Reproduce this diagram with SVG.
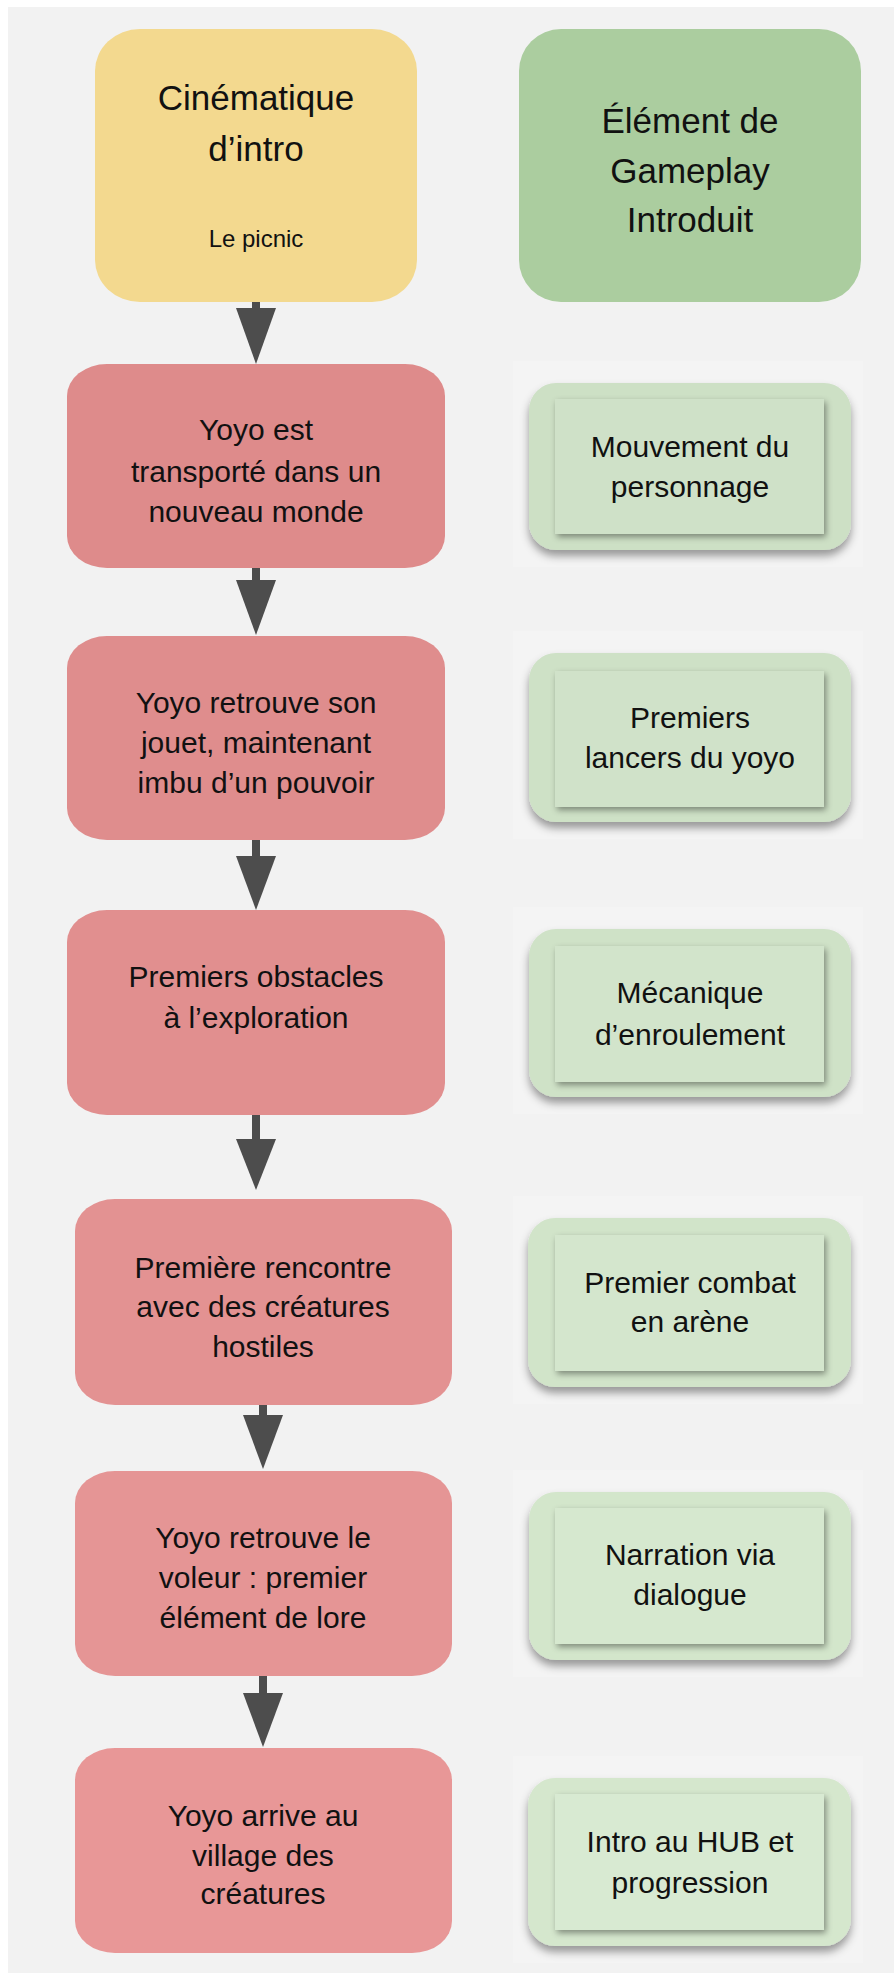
<svg xmlns="http://www.w3.org/2000/svg" width="894" height="1973" viewBox="0 0 894 1973">
<defs>
<filter id="shOuter" x="-10%" y="-15%" width="120%" height="140%">
<feDropShadow dx="0" dy="6" stdDeviation="4" flood-color="#000" flood-opacity="0.38"/>
</filter>
<filter id="shInner" x="-10%" y="-15%" width="125%" height="140%">
<feDropShadow dx="2" dy="3" stdDeviation="3" flood-color="#000" flood-opacity="0.4"/>
</filter>
<style>
text{font-family:"Liberation Sans",Arial,sans-serif;fill:#111;text-anchor:middle}
.t{font-size:30px}
.h{font-size:35px}
.s{font-size:24px}
.red{rx:40px;ry:32px}
.go{rx:27px;ry:27px;filter:url(#shOuter)}
.gi{filter:url(#shInner)}
.halo{fill:#f4f4f4}
.shaft{fill:#4d4d4d}
.head{fill:#4d4d4d}
</style>
</defs>
<rect x="0" y="0" width="894" height="1973" fill="#ffffff"/>
<rect x="8" y="7" width="886" height="1966" fill="#f2f2f2"/>

<g id="connectors">
<rect class="shaft" x="252" y="285" width="8" height="25"/><polygon class="head" points="236,308 276,308 256,364"/>
<rect class="shaft" x="252" y="568" width="8" height="14"/><polygon class="head" points="236,580 276,580 256,635"/>
<rect class="shaft" x="252" y="840" width="8" height="18"/><polygon class="head" points="236,856 276,856 256,910"/>
<rect class="shaft" x="252" y="1115" width="8" height="26"/><polygon class="head" points="236,1139 276,1139 256,1190"/>
<rect class="shaft" x="259" y="1405" width="8" height="12"/><polygon class="head" points="243,1415 283,1415 263,1469"/>
<rect class="shaft" x="259" y="1676" width="8" height="19"/><polygon class="head" points="243,1693 283,1693 263,1747"/>
</g>

<g id="intro">
<rect x="95" y="29" width="322" height="273" rx="45" ry="42" fill="#f3d98f"/>
<text class="h" x="256" y="110">Cinématique</text>
<text class="h" x="256" y="161">d’intro</text>
<text class="s" x="256" y="247">Le picnic</text>
</g>

<g id="header">
<rect x="519" y="29" width="342" height="273" rx="42" ry="42" fill="#abcd9f"/>
<text class="h" x="690" y="133">Élément de</text>
<text class="h" x="690" y="183">Gameplay</text>
<text class="h" x="690" y="232">Introduit</text>
</g>

<g id="step1">
<rect class="red" x="67" y="364" width="378" height="204" fill="#de8b8b"/>
<text class="t" x="256" y="440">Yoyo est</text>
<text class="t" x="256" y="482">transporté dans un</text>
<text class="t" x="256" y="522">nouveau monde</text>
</g>
<g id="step2">
<rect class="red" x="67" y="636" width="378" height="204" fill="#df8d8d"/>
<text class="t" x="256" y="713">Yoyo retrouve son</text>
<text class="t" x="256" y="753">jouet, maintenant</text>
<text class="t" x="256" y="793">imbu d’un pouvoir</text>
</g>
<g id="step3">
<rect class="red" x="67" y="910" width="378" height="205" fill="#e18f8f"/>
<text class="t" x="256" y="987">Premiers obstacles</text>
<text class="t" x="256" y="1028">à l’exploration</text>
</g>
<g id="step4">
<rect class="red" x="75" y="1199" width="377" height="206" fill="#e39292"/>
<text class="t" x="263" y="1278">Première rencontre</text>
<text class="t" x="263" y="1317">avec des créatures</text>
<text class="t" x="263" y="1357">hostiles</text>
</g>
<g id="step5">
<rect class="red" x="75" y="1471" width="377" height="205" fill="#e59595"/>
<text class="t" x="263" y="1548">Yoyo retrouve le</text>
<text class="t" x="263" y="1588">voleur : premier</text>
<text class="t" x="263" y="1628">élément de lore</text>
</g>
<g id="step6">
<rect class="red" x="75" y="1748" width="377" height="205" fill="#e89797"/>
<text class="t" x="263" y="1826">Yoyo arrive au</text>
<text class="t" x="263" y="1866">village des</text>
<text class="t" x="263" y="1904">créatures</text>
</g>

<g id="gameplay1">
<rect class="halo" x="513" y="361" width="350" height="206"/>
<rect class="go" x="529" y="383" width="322" height="167" fill="#cde0c5"/>
<rect class="gi" x="555" y="399" width="269" height="135" fill="#cfe1c8"/>
<text class="t" x="690" y="457">Mouvement du</text>
<text class="t" x="690" y="497">personnage</text>
</g>
<g id="gameplay2">
<rect class="halo" x="513" y="631" width="350" height="208"/>
<rect class="go" x="529" y="653" width="322" height="169" fill="#cee1c6"/>
<rect class="gi" x="555" y="671" width="269" height="136" fill="#d0e2c9"/>
<text class="t" x="690" y="728">Premiers</text>
<text class="t" x="690" y="768">lancers du yoyo</text>
</g>
<g id="gameplay3">
<rect class="halo" x="513" y="907" width="350" height="207"/>
<rect class="go" x="529" y="929" width="322" height="168" fill="#cfe2c7"/>
<rect class="gi" x="555" y="946" width="269" height="136" fill="#d2e4cb"/>
<text class="t" x="690" y="1003">Mécanique</text>
<text class="t" x="690" y="1045">d’enroulement</text>
</g>
<g id="gameplay4">
<rect class="halo" x="513" y="1196" width="350" height="208"/>
<rect class="go" x="528" y="1218" width="323" height="169" fill="#d1e4c9"/>
<rect class="gi" x="555" y="1235" width="269" height="136" fill="#d4e6cd"/>
<text class="t" x="690" y="1293">Premier combat</text>
<text class="t" x="690" y="1332">en arène</text>
</g>
<g id="gameplay5">
<rect class="halo" x="513" y="1470" width="350" height="207"/>
<rect class="go" x="529" y="1492" width="322" height="168" fill="#d3e6cb"/>
<rect class="gi" x="555" y="1508" width="269" height="136" fill="#d6e8cf"/>
<text class="t" x="690" y="1565">Narration via</text>
<text class="t" x="690" y="1605">dialogue</text>
</g>
<g id="gameplay6">
<rect class="halo" x="513" y="1756" width="350" height="207"/>
<rect class="go" x="528" y="1778" width="323" height="168" fill="#d5e7cd"/>
<rect class="gi" x="555" y="1794" width="269" height="136" fill="#d8ead2"/>
<text class="t" x="690" y="1852">Intro au HUB et</text>
<text class="t" x="690" y="1893">progression</text>
</g>
</svg>
